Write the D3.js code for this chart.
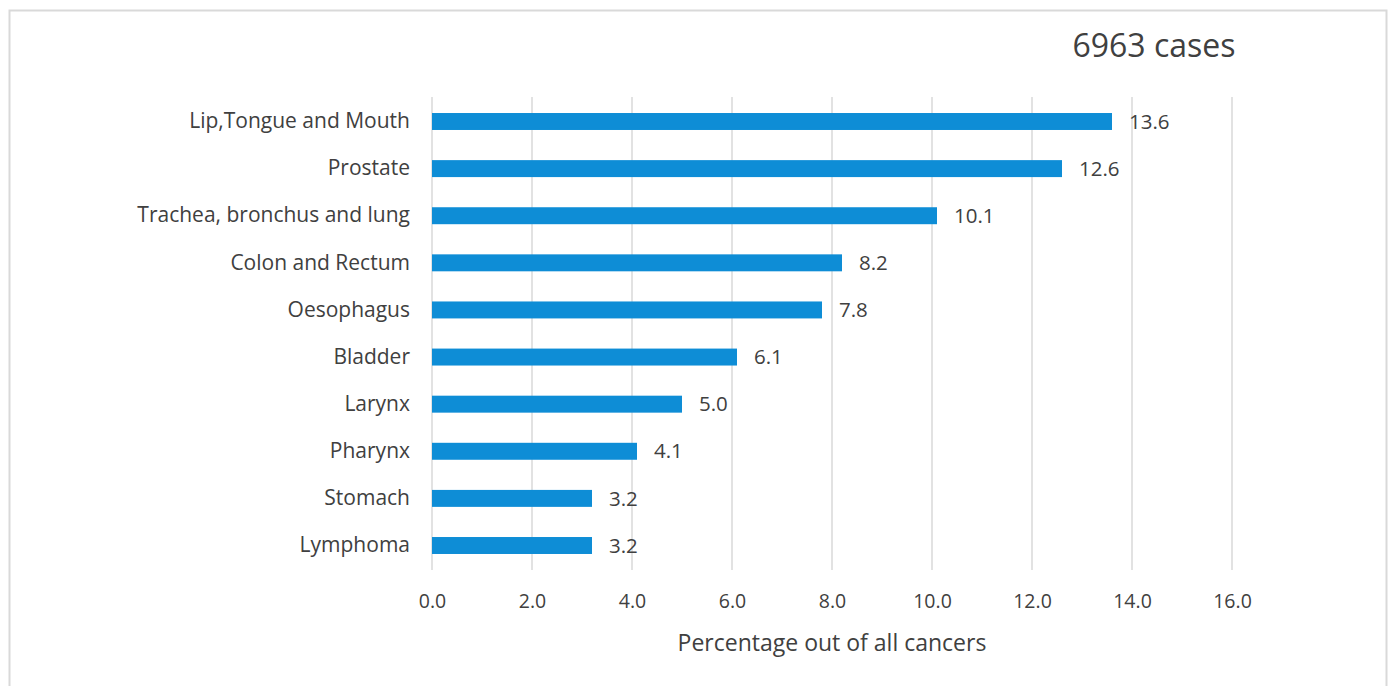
<!doctype html>
<html>
<head>
    <title>Cancer cases</title>
    <style>
        body { margin: 0; background: #fff; }
        text { font-family: "Open Sans", sans-serif; fill: #404040; }
    </style>
</head>
<body>
    <div id="chart"></div>

    <script src="https://d3js.org/d3.v7.min.js"></script>
    <script>
        // data
        var sites = ["Lip,Tongue and Mouth", "Prostate", "Trachea, bronchus and lung", "Colon and Rectum",
                     "Oesophagus", "Bladder", "Larynx", "Pharynx", "Stomach", "Lymphoma"];
        var percents = [13.6, 12.6, 10.1, 8.2, 7.8, 6.1, 5.0, 4.1, 3.2, 3.2];
        var xTicks = [0, 2, 4, 6, 8, 10, 12, 14, 16];
        var caseTitle = "6963 cases";
        var axisTitle = "Percentage out of all cancers";

        var W = 1392, H = 686;
        var margin = {top: 97, left: 432, right: 160, bottom: 116};

        var svg = d3.select("#chart").append("svg")
            .attr("width", W)
            .attr("height", H);

        // outer frame
        svg.append("rect")
            .attr("x", 9.5).attr("y", 10.5)
            .attr("width", 1377).attr("height", 690)
            .attr("fill", "none")
            .attr("stroke", "#d9d9d9")
            .attr("stroke-width", 2);

        var g = svg.append("g")
            .attr("transform", "translate(" + margin.left + "," + margin.top + ")");

        var x = d3.scaleLinear()
            .domain([0, 16])
            .range([0, 800]);

        var y = d3.scaleBand()
            .domain(sites)
            .range([0, 473])
            .paddingInner(0.64)
            .paddingOuter(0.34);

        // gridlines
        g.append("g")
            .selectAll("line")
            .data(xTicks)
            .enter()
            .append("line")
            .attr("x1", function (d) { return x(d); })
            .attr("x2", function (d) { return x(d); })
            .attr("y1", 0)
            .attr("y2", 473)
            .attr("stroke", "#d9d9d9")
            .attr("stroke-width", 1.5);

        // x axis
        var xAxis = g.append("g")
            .attr("transform", "translate(0,473)")
            .call(d3.axisBottom(x).tickValues(xTicks).tickFormat(d3.format(".1f")).tickSize(0).tickPadding(24));
        xAxis.select(".domain").remove();
        xAxis.selectAll("text")
            .style("font-size", "19.5px")
            .attr("fill", "#404040");

        // y axis
        var yAxis = g.append("g")
            .call(d3.axisLeft(y).tickSize(0).tickPadding(22));
        yAxis.select(".domain").remove();
        yAxis.selectAll("text")
            .style("font-size", "21px")
            .attr("fill", "#404040");

        // bars
        g.append("g")
            .selectAll("rect")
            .data(percents)
            .enter()
            .append("rect")
            .attr("x", x(0))
            .attr("y", function (d, i) { return y(sites[i]); })
            .attr("width", function (d) { return x(d) - x(0); })
            .attr("height", y.bandwidth())
            .attr("fill", "#0e8dd6");

        // value labels
        g.append("g")
            .selectAll("text")
            .data(percents)
            .enter()
            .append("text")
            .attr("x", function (d) { return x(d) + 17; })
            .attr("y", function (d, i) { return y(sites[i]) + y.bandwidth() / 2; })
            .attr("dy", "0.35em")
            .style("font-size", "20.5px")
            .text(function (d) { return d.toFixed(1); });

        // titles
        svg.append("text")
            .attr("x", 1154).attr("y", 57)
            .attr("text-anchor", "middle")
            .style("font-size", "32px")
            .text(caseTitle);

        svg.append("text")
            .attr("x", 832).attr("y", 651)
            .attr("text-anchor", "middle")
            .style("font-size", "23px")
            .text(axisTitle);
    </script>
</body>
</html>
